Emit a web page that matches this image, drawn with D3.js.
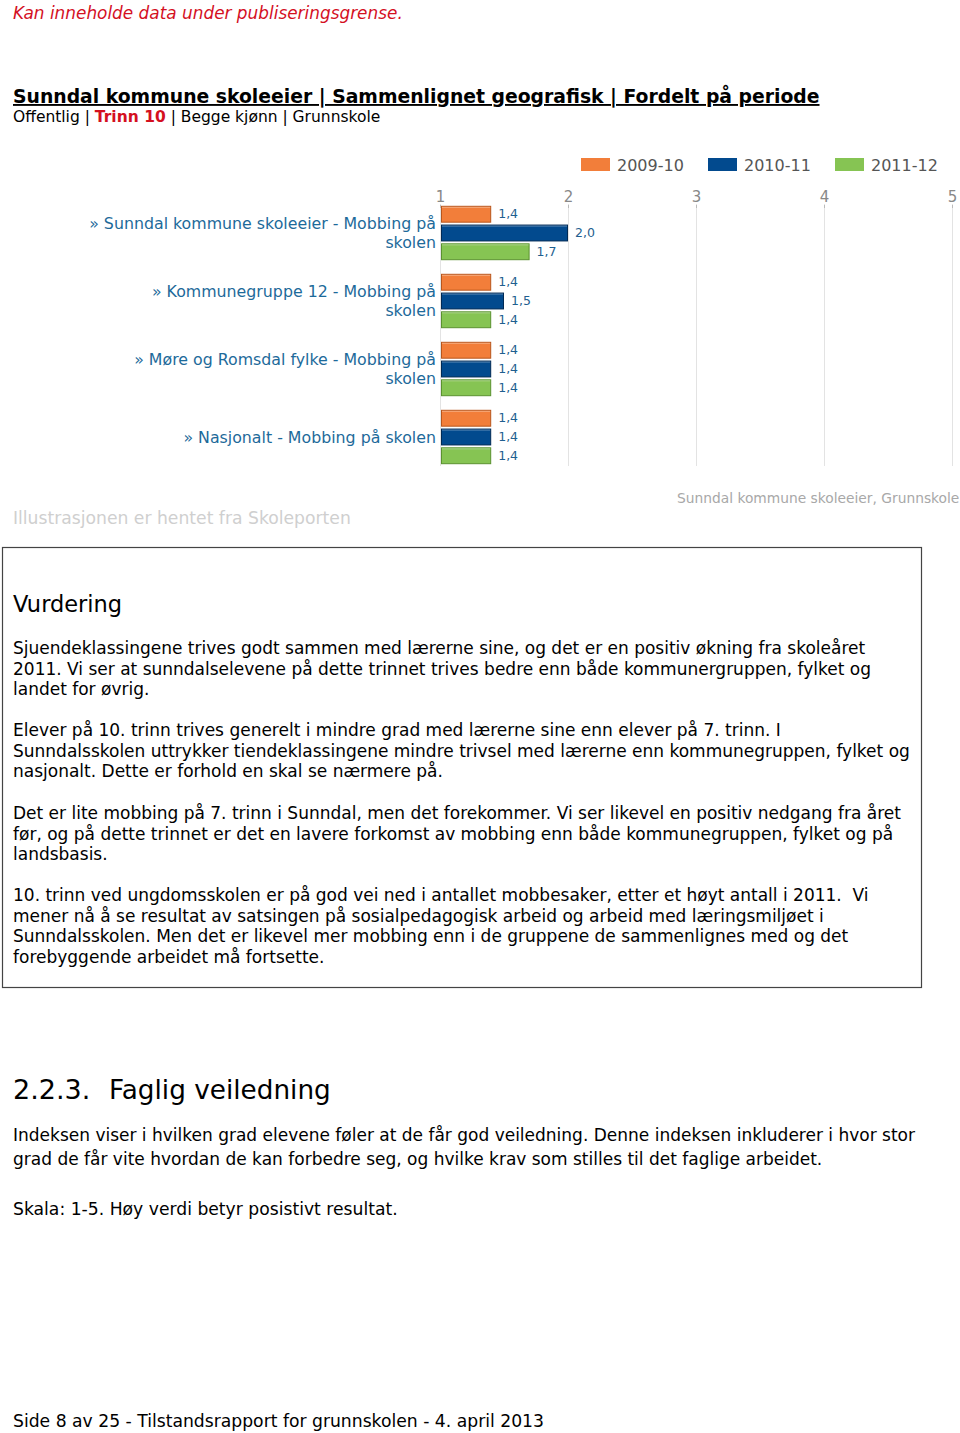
<!DOCTYPE html>
<html><head><meta charset="utf-8">
<script src="https://cdn.jsdelivr.net/npm/d3@7"></script>
<style>
html,body{margin:0;padding:0;background:#fff;}
svg{display:block;}
text{white-space:pre;}
</style></head>
<body>
<svg id="page" width="960" height="1433"></svg>
<script>
// ---- data ----
const categories = [
  "» Sunndal kommune skoleeier - Mobbing på skolen",
  "» Kommunegruppe 12 - Mobbing på skolen",
  "» Møre og Romsdal fylke - Mobbing på skolen",
  "» Nasjonalt - Mobbing på skolen"
];
const seriesNames = ["2009-10", "2010-11", "2011-12"];
const values2009 = [1.4, 1.4, 1.4, 1.4];
const values2010 = [2.0, 1.5, 1.4, 1.4];
const values2011 = [1.7, 1.4, 1.4, 1.4];
const tickValues = [1, 2, 3, 4, 5];
const seriesColors = ["#f27e3a", "#024a8e", "#86c453"];
const seriesEdges = ["#b8561c", "#012a55", "#5a922f"];

const para1 = ["Sjuendeklassingene trives godt sammen med lærerne sine, og det er en positiv økning fra skoleåret",
  "2011. Vi ser at sunndalselevene på dette trinnet trives bedre enn både kommunergruppen, fylket og",
  "landet for øvrig."];
const para2 = ["Elever på 10. trinn trives generelt i mindre grad med lærerne sine enn elever på 7. trinn. I",
  "Sunndalsskolen uttrykker tiendeklassingene mindre trivsel med lærerne enn kommunegruppen, fylket og",
  "nasjonalt. Dette er forhold en skal se nærmere på."];
const para3 = ["Det er lite mobbing på 7. trinn i Sunndal, men det forekommer. Vi ser likevel en positiv nedgang fra året",
  "før, og på dette trinnet er det en lavere forkomst av mobbing enn både kommunegruppen, fylket og på",
  "landsbasis."];
const para4 = ["10. trinn ved ungdomsskolen er på god vei ned i antallet mobbesaker, etter et høyt antall i 2011.  Vi",
  "mener nå å se resultat av satsingen på sosialpedagogisk arbeid og arbeid med læringsmiljøet i",
  "Sunndalsskolen. Men det er likevel mer mobbing enn i de gruppene de sammenlignes med og det",
  "forebyggende arbeidet må fortsette."];
const para5 = ["Indeksen viser i hvilken grad elevene føler at de får god veiledning. Denne indeksen inkluderer i hvor stor",
  "grad de får vite hvordan de kan forbedre seg, og hvilke krav som stilles til det faglige arbeidet."];

const svg = d3.select("#page");
const bodyFont = "Verdana, 'DejaVu Sans', sans-serif";
const chartFont = "Tahoma, 'DejaVu Sans', sans-serif";

// ---- header ----
svg.append("text").attr("x", 13).attr("y", 19).attr("font-family", bodyFont)
  .attr("font-style", "italic").attr("font-size", 16.9).attr("fill", "#d4101f")
  .text("Kan inneholde data under publiseringsgrense.");

svg.append("text").attr("x", 13).attr("y", 103).attr("font-family", bodyFont)
  .attr("font-weight", "bold").attr("font-size", 18.8).attr("fill", "#000")
  .attr("text-decoration", "underline")
  .text("Sunndal kommune skoleeier | Sammenlignet geografisk | Fordelt på periode");

const sub = svg.append("text").attr("x", 13).attr("y", 122).attr("font-family", bodyFont)
  .attr("font-size", 15.5).attr("fill", "#000");
sub.append("tspan").text("Offentlig | ");
sub.append("tspan").attr("font-weight", "bold").attr("fill", "#d4101f").text("Trinn 10");
sub.append("tspan").text(" | Begge kjønn | Grunnskole");

// ---- chart ----
const x = d3.scaleLinear().domain([1, 5]).range([440, 952]);
const y = d3.scaleBand().domain(categories).range([199, 471]).paddingInner(0.2).paddingOuter(0.1);
const ys = d3.scaleBand().domain(seriesNames).range([0, y.bandwidth()]).paddingInner(0.1);
const color = d3.scaleOrdinal().domain(seriesNames).range(seriesColors);
const edge = d3.scaleOrdinal().domain(seriesNames).range(seriesEdges);

const chart = svg.append("g");

// gridlines
chart.append("g").selectAll("line").data(tickValues).join("line")
  .attr("x1", d => x(d) + 0.5).attr("x2", d => x(d) + 0.5)
  .attr("y1", 204).attr("y2", 466)
  .attr("stroke", "#e3e3e3").attr("stroke-width", 1);

// axis ticks
const axis = d3.axisTop(x).tickValues(tickValues).tickFormat(d3.format("d")).tickSize(3).tickPadding(3);
const ag = chart.append("g").attr("transform", "translate(0,208)").call(axis);
ag.select(".domain").remove();
ag.selectAll(".tick line").attr("stroke", "#bbb");
ag.selectAll(".tick text").attr("font-family", chartFont).attr("font-size", 15).attr("fill", "#888");

// bars
const rows = categories.map((c, i) => ({
  cat: c,
  vals: [values2009[i], values2010[i], values2011[i]].map((v, j) => ({ s: seriesNames[j], v }))
}));
const grp = chart.selectAll(".grp").data(rows).join("g").attr("class", "grp")
  .attr("transform", d => `translate(0,${y(d.cat)})`);
grp.selectAll("rect").data(d => d.vals).join("rect")
  .attr("x", x(1) + 1.5).attr("y", d => ys(d.s) + 0.5)
  .attr("width", d => x(d.v) - x(1) - 2).attr("height", ys.bandwidth() - 1)
  .attr("fill", d => color(d.s)).attr("stroke", d => edge(d.s)).attr("stroke-width", 1);
grp.selectAll(".hl").data(d => d.vals).join("line").attr("class", "hl")
  .attr("x1", x(1) + 2).attr("x2", d => x(d.v) - 1)
  .attr("y1", d => ys(d.s) + 1.5).attr("y2", d => ys(d.s) + 1.5)
  .attr("stroke", "#ffffff").attr("stroke-opacity", 0.35);
grp.selectAll(".vl").data(d => d.vals).join("text").attr("class", "vl")
  .attr("x", d => x(d.v) + 7).attr("y", d => ys(d.s) + ys.bandwidth() / 2 + 4)
  .attr("font-family", chartFont).attr("font-size", 12.5).attr("fill", "#1f5f90")
  .text(d => d3.format(".1f")(d.v).replace(".", ","));

// category labels: long labels break before the last word
const wrapAt = 300;
grp.each(function (d) {
  const g = d3.select(this);
  const t = g.append("text").attr("text-anchor", "end").attr("font-family", chartFont)
    .attr("font-size", 15.8).attr("fill", "#1d6a9a");
  const probe = t.append("tspan").text(d.cat);
  let lines = [d.cat];
  if (probe.node().getComputedTextLength() > wrapAt) {
    const k = d.cat.lastIndexOf(" ");
    lines = [d.cat.slice(0, k), d.cat.slice(k + 1)];
  }
  probe.remove();
  const lh = 19;
  const c = y.bandwidth() / 2;
  const first = c + 6 - (lines.length - 1) * lh / 2;
  lines.forEach((ln, i) => {
    t.append("tspan").attr("x", 436).attr("y", first + i * lh).text(ln);
  });
});

// legend
const leg = svg.append("g").selectAll("g").data(seriesNames).join("g")
  .attr("transform", (d, i) => `translate(${581 + i * 127},158)`);
leg.append("rect").attr("width", 29).attr("height", 13).attr("fill", d => color(d));
leg.append("text").attr("x", 36).attr("y", 12.5).attr("font-family", chartFont)
  .attr("font-size", 16).attr("fill", "#555").text(d => d);

svg.append("text").attr("x", 677).attr("y", 503).attr("font-family", chartFont)
  .attr("font-size", 13.8).attr("fill", "#a8a8a8").text("Sunndal kommune skoleeier, Grunnskole");

svg.append("text").attr("x", 13).attr("y", 524).attr("font-family", chartFont)
  .attr("font-size", 17.2).attr("fill", "#cfcfcf").text("Illustrasjonen er hentet fra Skoleporten");

// ---- assessment box ----
svg.append("rect").attr("x", 2.5).attr("y", 547.5).attr("width", 919).attr("height", 440)
  .attr("fill", "none").attr("stroke", "#444").attr("stroke-width", 1.2);

svg.append("text").attr("x", 13).attr("y", 612).attr("font-family", bodyFont)
  .attr("font-size", 22.5).attr("fill", "#000").text("Vurdering");

function para(lines, y0, lh, size) {
  const t = svg.append("text").attr("font-family", bodyFont).attr("font-size", size).attr("fill", "#000");
  lines.forEach((ln, i) => t.append("tspan").attr("x", 13).attr("y", y0 + i * lh).text(ln));
}
para(para1, 654, 20.6, 17);
para(para2, 736, 20.6, 17);
para(para3, 819, 20.6, 17);
para(para4, 901, 20.6, 17);

svg.append("text").attr("x", 13).attr("y", 1099).attr("font-family", bodyFont)
  .attr("font-size", 27).attr("fill", "#000").text("2.2.3.");
svg.append("text").attr("x", 109).attr("y", 1099).attr("font-family", bodyFont)
  .attr("font-size", 26.3).attr("fill", "#000").text("Faglig veiledning");

para(para5, 1141, 24, 17);
para(["Skala: 1-5. Høy verdi betyr posistivt resultat."], 1215, 24, 17.2);

svg.append("text").attr("x", 13).attr("y", 1427).attr("font-family", bodyFont)
  .attr("font-size", 17.2).attr("fill", "#000").text("Side 8 av 25 - Tilstandsrapport for grunnskolen - 4. april 2013");
</script>
</body></html>
